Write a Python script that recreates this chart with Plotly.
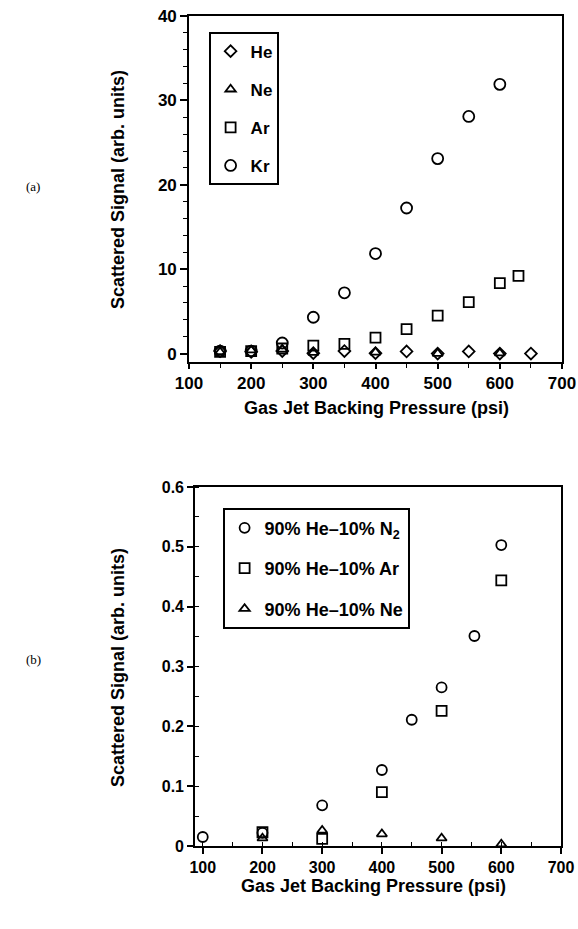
import plotly.graph_objects as go

# ---- panel (a) data ----
he_x = [150, 200, 250, 300, 350, 400, 450, 500, 550, 600, 650]
he_y = [0.3, 0.2, 0.3, 0.05, 0.3, 0.05, 0.25, 0.0, 0.25, 0.0, 0.0]
ne_x = [150, 200, 250, 300, 400, 500, 600]
ne_y = [0.2, 0.4, 0.5, 0.1, 0.15, 0.0, 0.05]
ar_x = [150, 200, 250, 300, 350, 400, 450, 500, 550, 600, 630]
ar_y = [0.2, 0.3, 0.6, 0.95, 1.15, 1.9, 2.9, 4.5, 6.1, 8.35, 9.2]
kr_x = [150, 200, 250, 300, 350, 400, 450, 500, 550, 600]
kr_y = [0.3, 0.3, 1.25, 4.3, 7.2, 11.85, 17.25, 23.1, 28.1, 31.9]

# ---- panel (b) data ----
n2_x = [100, 200, 300, 400, 450, 500, 555, 600]
n2_y = [0.015, 0.022, 0.068, 0.127, 0.211, 0.265, 0.351, 0.503]
arm_x = [200, 300, 400, 500, 600]
arm_y = [0.023, 0.012, 0.090, 0.226, 0.444]
nem_x = [200, 300, 400, 500, 600]
nem_y = [0.013, 0.026, 0.020, 0.013, 0.003]

W, H = 578, 929
fig = go.Figure()

def mk(sym, size):
    return dict(symbol=sym, size=size, color="black",
                line=dict(color="black", width=1.8))

fig.add_trace(go.Scatter(x=he_x, y=he_y, mode="markers", name="He", marker=mk("diamond-open", 9),
                         xaxis="x", yaxis="y", legend="legend", legendgroup="a1"))
fig.add_trace(go.Scatter(x=ne_x, y=ne_y, mode="markers", name="Ne", marker=mk("triangle-up-open", 9),
                         xaxis="x", yaxis="y", legend="legend", legendgroup="a2"))
fig.add_trace(go.Scatter(x=ar_x, y=ar_y, mode="markers", name="Ar", marker=mk("square-open", 10),
                         xaxis="x", yaxis="y", legend="legend", legendgroup="a3"))
fig.add_trace(go.Scatter(x=kr_x, y=kr_y, mode="markers", name="Kr", marker=mk("circle-open", 11),
                         xaxis="x", yaxis="y", legend="legend", legendgroup="a4"))

fig.add_trace(go.Scatter(x=n2_x, y=n2_y, mode="markers", name="90% He–10% N<sub>2</sub>", marker=mk("circle-open", 10),
                         xaxis="x2", yaxis="y2", legend="legend2", legendgroup="b1"))
fig.add_trace(go.Scatter(x=arm_x, y=arm_y, mode="markers", name="90% He–10% Ar", marker=mk("square-open", 10),
                         xaxis="x2", yaxis="y2", legend="legend2", legendgroup="b2"))
fig.add_trace(go.Scatter(x=nem_x, y=nem_y, mode="markers", name="90% He–10% Ne", marker=mk("triangle-up-open", 9),
                         xaxis="x2", yaxis="y2", legend="legend2", legendgroup="b3"))

FONT = "Liberation Sans, Arial, sans-serif"
tickfont_a = dict(family=FONT, size=17, color="black", weight="bold")
tickfont_b = dict(family=FONT, size=16, color="black", weight="bold")

def px_x(p):
    return p / W

def px_y(p):
    return 1 - p / H

axcommon = dict(showgrid=False, zeroline=False, showline=True, linecolor="black", linewidth=1.6,
                mirror=True, tickcolor="black", ticks="outside", automargin=False)

fig.update_layout(
    template="none",
    width=W, height=H, margin=dict(l=0, r=0, t=0, b=0, autoexpand=False),
    paper_bgcolor="white", plot_bgcolor="white",
    font=dict(family=FONT, color="black"),
    xaxis=dict(domain=[px_x(189), px_x(562)], range=[100, 700], dtick=100, tick0=100,
               ticklen=5, tickwidth=1.5, anchor="y", tickfont=tickfont_a,
               minor=dict(dtick=50, ticklen=4, tickwidth=1.2, ticks="outside", tickcolor="black"),
               **axcommon),
    yaxis=dict(domain=[px_y(362), px_y(16)], range=[-1.0, 40], dtick=10, tick0=0,
               ticklen=7, tickwidth=1.5, anchor="x", tickfont=tickfont_a,
               minor=dict(dtick=2, ticklen=4, tickwidth=1.2, ticks="outside", tickcolor="black"),
               **axcommon),
    xaxis2=dict(domain=[px_x(195), px_x(561)], range=[87, 700], dtick=100, tick0=100,
                ticklen=6, tickwidth=1.5, anchor="y2", tickfont=tickfont_b,
                minor=dict(dtick=50, ticklen=4, tickwidth=1.2, ticks="inside", tickcolor="black"),
                **axcommon),
    yaxis2=dict(domain=[px_y(846), px_y(487)], range=[0, 0.6], dtick=0.1, tick0=0,
                ticklen=6, tickwidth=1.5, anchor="x2", tickformat="~g", tickfont=tickfont_b,
                minor=dict(dtick=0.05, ticklen=4, tickwidth=1.2, ticks="inside", tickcolor="black"),
                **axcommon),
    legend=dict(x=px_x(209), y=px_y(32), xanchor="left", yanchor="top",
                bordercolor="black", borderwidth=1.6, bgcolor="white",
                font=dict(family=FONT, size=17, color="black", weight="bold"),
                tracegroupgap=13, itemwidth=30),
    legend2=dict(x=px_x(223), y=px_y(508), xanchor="left", yanchor="top",
                 bordercolor="black", borderwidth=1.6, bgcolor="white",
                 font=dict(family=FONT, size=18, color="black", weight="bold"),
                 tracegroupgap=14, itemwidth=30),
)

ann = []
def add(text, x, y, size, angle=0, family=FONT, bold=True):
    f = dict(family=family, size=size, color="black")
    if bold:
        f["weight"] = "bold"
    ann.append(dict(text=text, x=px_x(x), y=px_y(y), xref="paper", yref="paper",
                    xanchor="center", yanchor="middle", textangle=angle,
                    showarrow=False, font=f))

add("Scattered Signal (arb. units)", 118, 190, 18, -90)
add("Scattered Signal (arb. units)", 118, 668, 18, -90)
add("Gas Jet Backing Pressure (psi)", 376, 408, 18)
add("Gas Jet Backing Pressure (psi)", 373, 886, 18)
add("(a)", 33, 186, 13, family="Liberation Serif, serif", bold=False)
add("(b)", 33, 659, 13, family="Liberation Serif, serif", bold=False)
fig.update_layout(annotations=ann)

fig.write_html("out.html")
